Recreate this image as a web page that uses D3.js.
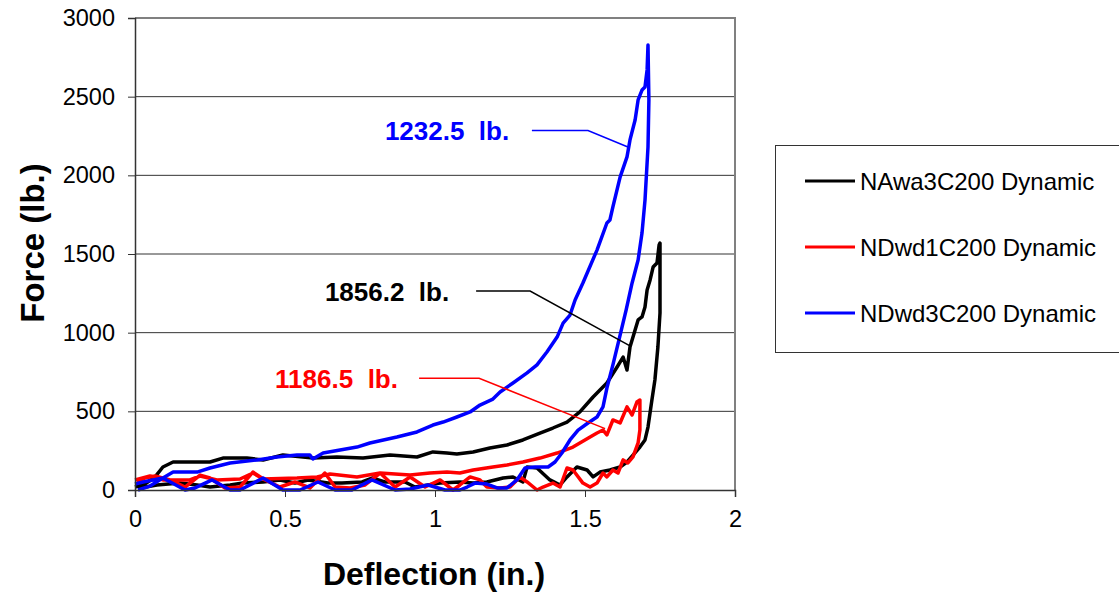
<!DOCTYPE html>
<html>
<head>
<meta charset="utf-8">
<script src="https://cdn.jsdelivr.net/npm/d3@7"></script>
<style>
  body { margin: 0; background: #fff; }
  svg text { font-family: Arial, "Liberation Sans", sans-serif; }
</style>
</head>
<body>
<div id="chart"></div>
<script>
// deflection (in.), force (lb.): loading branch then unloading branch
const naSeries = [
  [0,19],[0.033,38],[0.067,83],[0.093,146],[0.127,178],[0.25,178],[0.293,203],[0.373,203],
  [0.427,191],[0.493,222],[0.593,203],[0.673,210],[0.76,203],[0.85,222],[0.94,210],[0.993,242],
  [1.04,235],[1.073,229],[1.127,242],[1.183,267],[1.24,286],[1.293,318],[1.35,362],[1.393,394],
  [1.44,432],[1.483,496],[1.527,591],[1.573,680],[1.607,782],[1.627,845],[1.64,763],[1.65,909],
  [1.667,1017],[1.677,1081],[1.69,1100],[1.7,1163],[1.707,1271],[1.717,1335],[1.727,1417],
  [1.74,1443],[1.747,1557],[1.75,1570],
  [1.75,1125],[1.743,909],[1.733,699],[1.723,572],[1.71,400],[1.7,318],[1.683,273],[1.66,222],
  [1.64,178],[1.617,146],[1.583,127],[1.55,114],[1.527,83],[1.507,127],[1.473,146],[1.44,83],
  [1.417,32],[1.383,64],[1.34,140],[1.307,146],[1.293,51],[1.26,83],[1.227,76],[1.173,51],
  [1.127,44],[1.083,51],[1.017,44],[0.977,32],[0.933,19],[0.9,51],[0.833,51],[0.79,76],
  [0.757,51],[0.69,44],[0.643,44],[0.577,64],[0.533,44],[0.483,64],[0.427,51],[0.36,44],
  [0.317,32],[0.25,19],[0.207,32],[0.15,44],[0.073,32],[0.017,13]
]
const nd1Series = [
  [0,64],[0.05,89],[0.093,64],[0.183,64],[0.217,89],[0.273,64],[0.35,70],[0.393,108],[0.427,70],
  [0.54,76],[0.607,83],[0.65,102],[0.74,83],[0.817,108],[0.917,95],[0.983,108],[1.04,114],
  [1.083,108],[1.127,127],[1.193,146],[1.24,159],[1.293,178],[1.35,203],[1.407,235],[1.46,273],
  [1.517,337],[1.54,362],[1.56,381],[1.573,350],[1.593,445],[1.617,426],[1.64,528],[1.657,477],
  [1.673,559],[1.683,572],
  [1.683,381],[1.677,299],[1.66,210],[1.643,172],[1.627,191],[1.61,108],[1.593,127],[1.573,83],
  [1.56,108],[1.54,44],[1.517,19],[1.493,44],[1.46,127],[1.44,140],[1.417,19],[1.393,44],
  [1.36,19],[1.34,0],[1.307,51],[1.283,83],[1.25,19],[1.217,13],[1.173,19],[1.15,64],[1.117,83],
  [1.083,32],[1.06,0],[1.017,64],[0.967,19],[0.917,83],[0.867,19],[0.817,108],[0.767,32],
  [0.717,13],[0.667,19],[0.633,108],[0.583,13],[0.533,51],[0.483,19],[0.433,64],[0.393,114],
  [0.35,19],[0.3,13],[0.25,76],[0.217,95],[0.167,19],[0.117,64],[0.067,89],[0.033,76],[0.007,51]
]
const nd3Series = [
  [0,38],[0.027,51],[0.093,76],[0.127,114],[0.207,114],[0.25,140],[0.317,172],[0.407,191],
  [0.473,210],[0.54,222],[0.583,222],[0.593,197],[0.627,235],[0.74,273],[0.783,299],[0.873,337],
  [0.94,369],[0.993,413],[1.027,432],[1.073,464],[1.117,496],[1.15,540],[1.193,578],[1.217,623],
  [1.26,680],[1.307,744],[1.34,795],[1.373,877],[1.407,972],[1.427,1061],[1.45,1112],[1.467,1208],
  [1.493,1316],[1.54,1525],[1.573,1697],[1.583,1716],[1.593,1799],[1.617,1989],[1.64,2117],
  [1.65,2225],[1.667,2352],[1.677,2479],[1.69,2542],[1.7,2561],[1.707,2670],[1.71,2828],
  [1.713,2479],[1.71,2180],[1.7,1843],[1.69,1633],[1.677,1462],[1.657,1316],[1.637,1144],
  [1.613,953],[1.593,795],[1.573,648],[1.56,528],[1.54,464],[1.51,426],[1.477,381],[1.45,318],
  [1.423,235],[1.4,178],[1.377,146],[1.333,146],[1.3,140],[1.273,64],[1.24,13],[1.207,13],
  [1.173,38],[1.133,44],[1.107,19],[1.083,0],[1.033,0],[0.977,32],[0.917,6],[0.867,0],[0.79,64],
  [0.723,0],[0.667,0],[0.61,51],[0.55,0],[0.493,0],[0.427,76],[0.35,0],[0.317,0],[0.257,64],
  [0.2,13],[0.167,0],[0.093,76],[0.05,25],[0.01,0]
]

const seriesNames = ['NAwa3C200 Dynamic', 'NDwd1C200 Dynamic', 'NDwd3C200 Dynamic']
const seriesColors = ['#000000', '#ff0000', '#0000ff']
const xTicks = [0, 0.5, 1, 1.5, 2]
const yTicks = [0, 500, 1000, 1500, 2000, 2500, 3000]

// callouts: label, colour index, text anchor and leader line in data units
const calloutLabels = ['1232.5  lb.', '1856.2  lb.', '1186.5  lb.']
const calloutColor = [2, 0, 1]
const calloutAnchors = [[0.833, 2285], [0.633, 1265], [0.467, 710]]
const calloutLeaders = [
  [[1.323, 2285], [1.51, 2285], [1.643, 2180]],
  [[1.137, 1265], [1.317, 1265], [1.653, 913]],
  [[0.947, 710], [1.147, 710], [1.567, 390]]
]

const width = 1119, height = 596
const svg = d3.select('#chart').append('svg')
  .attr('width', width).attr('height', height)

const x = d3.scaleLinear().domain([0, 2]).range([135, 735])
const y = d3.scaleLinear().domain([0, 3000]).range([490, 18])

// gridlines
svg.append('g').selectAll('line')
  .data(yTicks.filter(d => d > 0 && d < 3000))
  .enter().append('line')
  .attr('x1', x(0)).attr('x2', x(2))
  .attr('y1', d => y(d)).attr('y2', d => y(d))
  .attr('stroke', '#333').attr('stroke-width', 1)

// plot-area frame (top and right)
svg.append('path')
  .attr('d', `M${x(0)},${y(3000)}H${x(2)}V${y(0)}`)
  .attr('fill', 'none').attr('stroke', '#808080').attr('stroke-width', 2)

const line = d3.line().x(d => x(d[0])).y(d => y(d[1]))

svg.append('g').selectAll('path')
  .data([naSeries, nd1Series, nd3Series])
  .enter().append('path')
  .attr('d', line)
  .attr('fill', 'none')
  .attr('stroke', (d, i) => seriesColors[i])
  .attr('stroke-width', 3.5)
  .attr('stroke-linejoin', 'round')

// axes
const xAxis = svg.append('g').attr('transform', `translate(0,${y(0)})`)
  .call(d3.axisBottom(x).tickValues(xTicks).tickFormat(d3.format('')).tickSize(7).tickPadding(13))
const yAxis = svg.append('g').attr('transform', `translate(${x(0)},0)`)
  .call(d3.axisLeft(y).tickValues(yTicks).tickFormat(d3.format('d')).tickSize(7).tickPadding(13))
;[xAxis, yAxis].forEach(g => {
  g.select('.domain').attr('stroke', '#333').attr('stroke-width', 1.5)
  g.selectAll('.tick line').attr('stroke', '#333')
  g.selectAll('.tick text').attr('font-size', 23.5).attr('fill', '#000')
    .style('font-family', 'Arial, "Liberation Sans", sans-serif')
})

svg.append('text')
  .attr('x', 434).attr('y', 585)
  .attr('text-anchor', 'middle')
  .attr('font-size', 32).attr('font-weight', 'bold')
  .text('Deflection (in.)')
svg.append('text')
  .attr('transform', 'translate(44,243) rotate(-90)')
  .attr('text-anchor', 'middle')
  .attr('font-size', 33).attr('font-weight', 'bold')
  .text('Force (lb.)')

// callouts
calloutLeaders.forEach((pts, i) => {
  svg.append('path')
    .attr('d', line(pts))
    .attr('fill', 'none')
    .attr('stroke', seriesColors[calloutColor[i]])
    .attr('stroke-width', 1.5)
})
calloutLabels.forEach((t, i) => {
  svg.append('text')
    .attr('x', x(calloutAnchors[i][0])).attr('y', y(calloutAnchors[i][1]) + 10)
    .attr('font-size', 26).attr('font-weight', 'bold')
    .attr('fill', seriesColors[calloutColor[i]])
    .style('white-space', 'pre')
    .text(t)
})

// legend
const legend = svg.append('g')
legend.append('rect')
  .attr('x', 775.5).attr('y', 145.5).attr('width', 360).attr('height', 207)
  .attr('fill', '#fff').attr('stroke', '#333').attr('stroke-width', 1)
seriesNames.forEach((n, i) => {
  const ly = 181 + i * 66
  legend.append('line')
    .attr('x1', 805).attr('x2', 855).attr('y1', ly).attr('y2', ly)
    .attr('stroke', seriesColors[i]).attr('stroke-width', 3)
  legend.append('text')
    .attr('x', 860).attr('y', ly + 8.5)
    .attr('font-size', 24)
    .text(n)
})
</script>
</body>
</html>
